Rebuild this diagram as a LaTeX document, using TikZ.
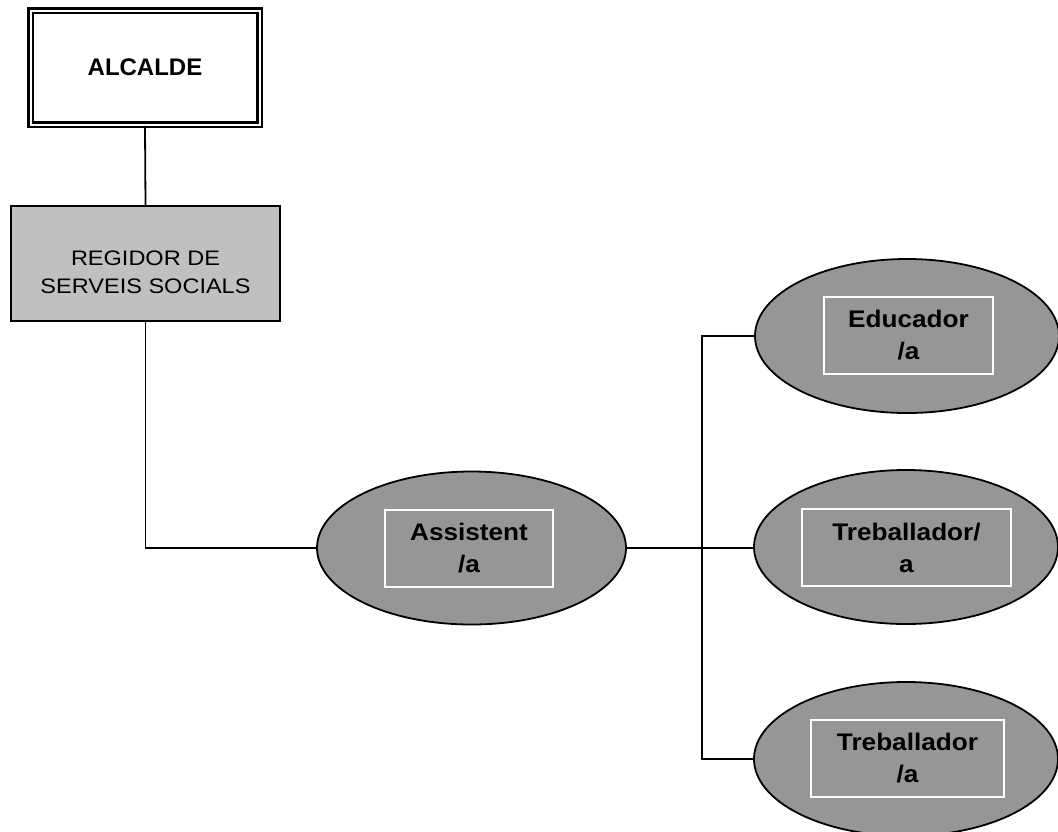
\documentclass[tikz,border=0pt]{standalone}
\usepackage{fontspec}
\setmainfont{Liberation Sans}
\newfontfamily\ovalfont[FakeStretch=1.09]{Liberation Sans}
\newfontfamily\regfont[FakeStretch=1.12]{Liberation Sans}
\usepackage{tikz}
\usetikzlibrary{shapes}
\definecolor{regidorgray}{HTML}{C0C0C0}
\definecolor{ovalgray}{HTML}{969696}
\tikzstyle{line} = [draw, line width=1.8pt]
\tikzstyle{mayor} = [rectangle, draw, double=white, double distance=2pt, line width=2.5pt, minimum width=229pt, minimum height=114pt, inner sep=0pt, font=\fontsize{24}{30}\selectfont\bfseries]
\tikzstyle{regidor} = [rectangle, draw, fill=regidorgray, line width=1.8pt, minimum width=269pt, minimum height=115pt, inner sep=0pt]
\tikzstyle{regtext} = [inner sep=0pt, align=center, font=\regfont\fontsize{21}{27.7}\selectfont]
\tikzstyle{oval} = [ellipse, draw, fill=ovalgray, line width=1.8pt, minimum width=304pt, minimum height=154pt, inner sep=0pt]
\tikzstyle{tag} = [rectangle, draw=white, line width=1.5pt, minimum height=77pt, inner sep=0pt, align=center, font=\ovalfont\fontsize{24}{32}\selectfont\bfseries]

\begin{document}
\begin{tikzpicture}[x=1pt, y=-1pt]
			\useasboundingbox (0,0) rectangle (1058,831);
			\node [mayor] (alcalde) at (145,67.5) {ALCALDE};
			\node [regidor] (regidor) at (145.5,263.5) {};
			\node [regtext] (regidor_t) at ([yshift=-9pt]regidor.center) {REGIDOR DE\\SERVEIS SOCIALS};
			
			\node [oval, minimum width=309pt, minimum height=153pt] (assist) at (471.5,548) {};
			\node [tag, minimum width=168pt] (assist_t) at (469,548.5) {Assistent\\/a};
			
			\node [oval] (educ) at (907,336) {};
			\node [tag, minimum width=169pt] (educ_t) at (908.5,335.5) {Educador\\/a};
			
			\node [oval] (treb1) at (906,547) {};
			\node [tag, minimum width=209pt] (treb1_t) at (906.5,547.5) {Treballador/\\a};
			
			\node [oval] (treb2) at (906,759) {};
			\node [tag, minimum width=193pt] (treb2_t) at (907.5,758.5) {Treballador\\/a};
			
			\coordinate (bus) at (702,548);
			
			\path [line] (alcalde.south) -- (regidor.north);
			\path [line] (regidor.south) |- (assist.west);
			\path [line] (assist.east) -- (assist.east -| treb1.west);
			\path [line] (educ.west) -| (bus) |- (treb2.west);
		\end{tikzpicture}
\end{document}
